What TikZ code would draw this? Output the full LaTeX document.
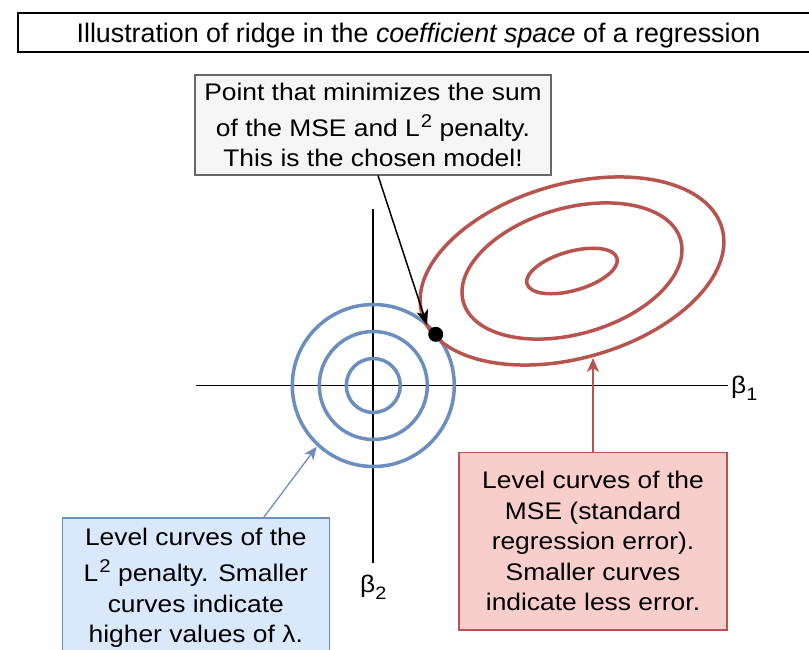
\documentclass[tikz,border=0pt]{standalone}
\usepackage{fontspec}
\setmainfont{Liberation Sans}
\newfontfamily\boxfont{Liberation Sans}[FakeStretch=1.1]
\usetikzlibrary{arrows.meta}
\definecolor{bluestroke}{HTML}{6C8EBF}
\definecolor{bluefill}{HTML}{DAE8FC}
\definecolor{redstroke}{HTML}{B85450}
\definecolor{redfill}{HTML}{F8CECC}
\definecolor{grayfill}{HTML}{F5F5F5}
\definecolor{graystroke}{HTML}{666666}
\newcommand\mysup[1]{\hspace{1pt}\raisebox{9pt}{\fontsize{18.5}{18.5}\selectfont #1}}
\newcommand\mysub[1]{\raisebox{-7pt}{\fontsize{18}{18}\selectfont #1}}
\begin{document}
\begin{tikzpicture}[x=1pt,y=-1pt,
  boxtext/.style={align=center,inner sep=0pt,font=\boxfont\fontsize{24}{30.5}\selectfont},
  graybox/.style={boxtext,draw=graystroke,fill=grayfill,line width=1.5pt},
  bluebox/.style={boxtext,draw=bluestroke,fill=bluefill,line width=1.5pt},
  redbox/.style={boxtext,draw=redstroke,fill=redfill,line width=1.5pt},
  bluecurve/.style={draw=bluestroke,line width=3.5pt},
  redcurve/.style={draw=redstroke,line width=3.5pt},
  axisline/.style={draw=black,line width=1.7pt},
  lbl/.style={inner sep=0pt,anchor=base west,font=\boxfont\fontsize{24}{28}\selectfont}
]
\useasboundingbox (0,0) rectangle (809,650);
\fill[white] (0,0) rectangle (809,650);

% title
\node[draw=black,line width=1.5pt,fill=white,minimum width=801pt,minimum height=39pt,
      inner sep=0pt,text depth=0pt,font=\fontsize{26.8}{30}\selectfont] (title) at (418.5,32.5)
  {Illustration of ridge in the \textit{coefficient space} of a regression};

% axes
\coordinate (axL) at (196,385.5);
\coordinate (axR) at (728,385.5);
\coordinate (axT) at (373.3,209);
\coordinate (axB) at (373.3,563);
\coordinate (O) at (373.3,385.5);
\draw[axisline] (axL) -- (axR);
\draw[axisline] (axT) -- (axB);
\node[lbl] (beta1) at (731,393) {β\mysub{1}};
\node[lbl] (beta2) at (360,592) {β\mysub{2}};

% L2 level curves
\draw[bluecurve] (O) circle[radius=27];
\draw[bluecurve] (O) circle[radius=54];
\draw[bluecurve] (O) circle[radius=81];

% MSE level curves
\coordinate (E) at (572,271);
\draw[redcurve,rotate around={16:(E)}] (E) ellipse[x radius=156,y radius=87];
\draw[redcurve,rotate around={16:(E)}] (E) ellipse[x radius=113,y radius=63];
\draw[redcurve,rotate around={16:(E)}] (E) ellipse[x radius=46.8,y radius=19.5];

% chosen point
\node[circle,fill=black,inner sep=0pt,minimum size=15pt] (dot) at (435.7,334.3) {};

% boxes
\node[graybox,minimum width=356pt,minimum height=100pt] (topbox) at (373,125)
  {Point that minimizes the sum\\[5pt] of the MSE and L\mysup{2} penalty.\\ This is the chosen model!};
\node[redbox,minimum width=268pt,minimum height=177.5pt] (redbox) at (593,541.4)
  {Level curves of the\\ MSE (standard\\ regression error).\\ Smaller curves\\ indicate less error.};
\node[bluebox,minimum width=267pt,minimum height=140pt] (bluebox) at (195.8,588)
  {Level curves of the\\[6pt] L\mysup{2} penalty. Smaller\\ curves indicate\\ higher values of λ.};

% connectors
\coordinate (a1s) at (378,175.5);
\coordinate (a1e) at (427,325);
\draw[line width=1.5pt,-{Stealth[length=15pt,width=12pt,inset=4pt]}] (a1s) -- (a1e);
\coordinate (b1s) at (263.3,518);
\coordinate (b1e) at (316.7,446.7);
\draw[bluestroke,line width=1.3pt,-{Stealth[length=13pt,width=11pt,inset=3.5pt]}] (b1s) -- (b1e);
\coordinate (r1e) at (593,358);
\draw[redstroke,line width=1.5pt,-{Stealth[length=14pt,width=12pt,inset=4pt]}] (redbox.north) -- (r1e);
\end{tikzpicture}
\end{document}
